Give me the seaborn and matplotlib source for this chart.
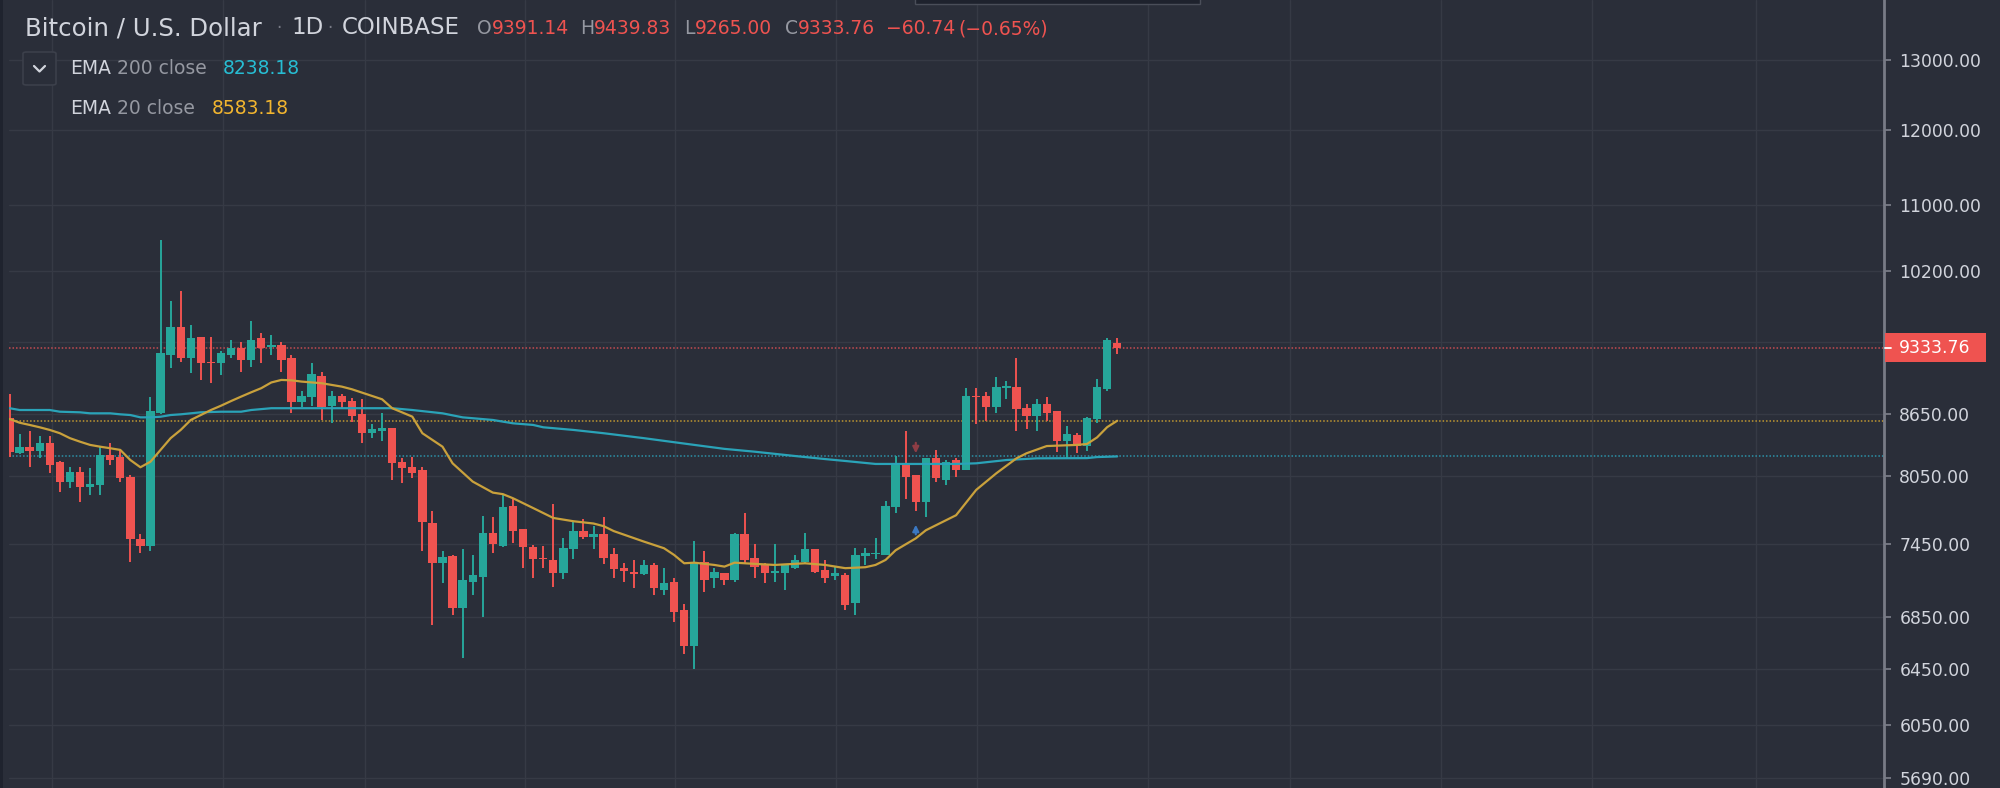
"""
Bitcoin / U.S. Dollar daily candles (Coinbase) with EMA 20 and EMA 200
"""

import matplotlib
matplotlib.use("Agg")
import matplotlib.pyplot as plt
import matplotlib.ticker as mticker
from matplotlib.lines import Line2D
from matplotlib.patches import FancyBboxPatch, Rectangle
import numpy as np
import pandas as pd
import seaborn as sns

# =========================================================
# Data (one candle per day)
# =========================================================

OPEN = [
    8614, 8274, 8331, 8290, 8363, 8188, 8003, 8090, 7957, 7972,
    8251, 8235, 8049, 7489, 7432, 8664, 9258, 9565, 9223, 9455,
    9187, 9170, 9258, 9330, 9205, 9437, 9340, 9365, 9223, 8774,
    8825, 9041, 8730, 8832, 8784, 8651, 8466, 8486, 8516, 8188,
    8142, 8111, 7634, 7290, 7347, 6917, 7132, 7174, 7547, 7432,
    7785, 7575, 7426, 7330, 7313, 7207, 7403, 7563, 7506, 7533,
    7361, 7244, 7216, 7195, 7271, 7065, 7132, 6905, 6625, 7299,
    7160, 7202, 7146, 7533, 7327, 7277, 7207, 7207, 7244, 7299,
    7403, 7230, 7181, 7188, 6958, 7347, 7362, 7355, 7770, 8173,
    8064, 7821, 8220, 8018, 8204, 8111, 8832, 8832, 8717, 8909,
    8919, 8713, 8631, 8748, 8681, 8385, 8444, 8337, 8598, 8904,
    9391.14,
]
HIGH = [
    8852, 8451, 8483, 8434, 8434, 8195, 8136, 8136, 8127, 8331,
    8363, 8300, 8064, 7535, 8819, 10568, 9852, 9966, 9582, 9455,
    9455, 9305, 9419, 9401, 9630, 9491, 9473, 9401, 9258, 8887,
    9170, 9082, 8887, 8853, 8808, 8801, 8549, 8657, 8516, 8220,
    8235, 8142, 7740, 7390, 7355, 7403, 7355, 7692, 7680, 7888,
    7851, 7575, 7440, 7432, 7800, 7503, 7642, 7663, 7607, 7680,
    7412, 7290, 7313, 7313, 7290, 7244, 7160, 6952, 7474, 7390,
    7244, 7202, 7547, 7716, 7446, 7285, 7446, 7271, 7355, 7547,
    7403, 7313, 7257, 7207, 7412, 7412, 7497, 7827, 8242, 8483,
    8064, 8220, 8300, 8204, 8220, 8915, 8915, 8869, 9023, 8989,
    9223, 8751, 8801, 8818, 8681, 8533, 8461, 8618, 9003, 9437,
    9439.83,
]
LOW = [
    8236, 8265, 8142, 8220, 8080, 7912, 7942, 7821, 7882, 7882,
    8158, 8003, 7299, 7375, 7392, 8648, 9118, 9187, 9065, 8996,
    8962, 9048, 9223, 9082, 9135, 9170, 9258, 9082, 8657, 8717,
    8730, 8591, 8564, 8707, 8568, 8369, 8417, 8389, 8018, 7988,
    8034, 7392, 6786, 7119, 6864, 6535, 7024, 6851, 7375, 7421,
    7460, 7249, 7160, 7249, 7092, 7152, 7319, 7489, 7403, 7277,
    7160, 7132, 7079, 7188, 7024, 7024, 6812, 6563, 6449, 7051,
    7079, 7105, 7132, 7277, 7160, 7119, 7132, 7065, 7236, 7277,
    7202, 7119, 7146, 6905, 6864, 7271, 7319, 7355, 7722, 7845,
    7740, 7680, 8003, 7972, 8049, 8111, 8549, 8584, 8664, 8801,
    8483, 8500, 8483, 8584, 8283, 8226, 8274, 8290, 8564, 8884,
    9265.00,
]
CLOSE = [
    8283, 8331, 8290, 8363, 8158, 8003, 8090, 7957, 7982, 8251,
    8204, 8034, 7489, 7432, 8681, 9277, 9565, 9223, 9437, 9170,
    9170, 9277, 9330, 9205, 9419, 9330, 9365, 9205, 8774, 8832,
    9058, 8717, 8832, 8774, 8631, 8466, 8500, 8516, 8173, 8127,
    8080, 7640, 7290, 7341, 6917, 7146, 7188, 7547, 7446, 7770,
    7563, 7421, 7319, 7319, 7207, 7412, 7563, 7506, 7535, 7333,
    7236, 7222, 7195, 7271, 7079, 7119, 6891, 6625, 7299, 7146,
    7216, 7146, 7533, 7313, 7257, 7202, 7222, 7271, 7313, 7403,
    7216, 7160, 7202, 6945, 7355, 7369, 7375, 7785, 8173, 8049,
    7821, 8220, 8034, 8188, 8111, 8832, 8818, 8717, 8919, 8932,
    8700, 8631, 8748, 8664, 8385, 8451, 8337, 8614, 8919, 9419,
    9333.76,
]

# EMA 200 (close), read at the days where the line bends
EMA200_DAYS = [
    0, 1, 4, 5, 7, 8, 10, 11, 12, 13, 14, 15, 16, 17, 19, 21, 23, 24,
    26, 28, 38, 40, 43, 45, 48, 50, 52, 53, 56, 59, 63, 68, 71, 74, 78,
    81, 83, 86, 94, 96, 99, 102, 107, 108, 110,
]
EMA200 = [
    8708, 8690, 8690, 8673, 8667, 8657, 8657, 8647, 8640, 8617, 8617,
    8623, 8640, 8647, 8667, 8673, 8673, 8690, 8708, 8708, 8708, 8690,
    8657, 8617, 8591, 8558, 8542, 8519, 8493, 8461, 8413, 8348, 8310,
    8283, 8242, 8213, 8195, 8167, 8167, 8173, 8204, 8220, 8222, 8232,
    8238.18,
]

# EMA 20 (close)
EMA20_DAYS = [
    0, 1, 2, 3, 4, 5, 6, 7, 8, 9, 10, 11, 12, 13, 14, 15, 16, 17, 18,
    19, 20, 21, 22, 23, 24, 25, 26, 27, 28, 29, 31, 33, 34, 37, 38, 40,
    41, 43, 44, 46, 48, 49, 50, 52, 54, 56, 58, 59, 60, 63, 65, 66, 67,
    68, 70, 71, 72, 74, 76, 79, 81, 83, 85, 86, 87, 88, 90, 91, 94, 96,
    98, 100, 101, 103, 106, 107, 108, 109, 110,
]
EMA20 = [
    8601, 8564, 8542, 8519, 8493, 8461, 8413, 8379, 8348, 8331, 8316,
    8300, 8204, 8136, 8188, 8300, 8413, 8493, 8591, 8640, 8690, 8733,
    8780, 8825, 8869, 8911, 8970, 8996, 8992, 8979, 8962, 8927, 8900,
    8798, 8708, 8624, 8461, 8331, 8173, 8003, 7902, 7888, 7851, 7763,
    7675, 7646, 7626, 7603, 7560, 7469, 7412, 7355, 7285, 7290, 7271,
    7257, 7290, 7280, 7271, 7285, 7271, 7244, 7252, 7271, 7313, 7395,
    7497, 7567, 7699, 7927, 8080, 8220, 8268, 8337, 8348, 8357, 8420,
    8520, 8583.18,
]

PRICE_TICKS = [13000, 12000, 11000, 10200, 8650, 8050, 7450, 6850, 6450, 6050, 5690]
HIDDEN_TICK = 9400          # grid line whose label sits under the price tag
GRID_DAYS = [4.2, 21.2, 35.3, 51.2, 66.1, 82.1, 96.1, 113.1, 127.2, 142.2, 157.2, 173.4]

SIGNAL_DAY = 90             # the two small arrows over / under this candle

TITLE = "Bitcoin / U.S. Dollar"
INTERVAL = "1D"
EXCHANGE = "COINBASE"
CHANGE = "−60.74"
CHANGE_PCT = "(−0.65%)"

# =========================================================
# Plot Settings
# =========================================================

W, H = 2000, 788
BG = "#2a2e39"
GRID = "#363a45"
AXIS = "#787b86"
TEXT = "#d1d4dc"
MUTED = "#9598a1"
UP = "#26a69a"
DOWN = "#ef5350"
EMA200_COLOR = "#2aa3b8"
EMA20_COLOR = "#c9a13c"
EMA200_TEXT = "#27bdd3"
EMA20_TEXT = "#f2b52f"

sns.set_theme(style="dark", rc={"axes.facecolor": BG, "figure.facecolor": BG})
plt.rcParams["font.family"] = ["DejaVu Sans"]


def fx(x):
    return x / W


def fy(y):
    return 1 - y / H


# =========================================================
# Figure
# =========================================================

df = pd.DataFrame({"open": OPEN, "high": HIGH, "low": LOW, "close": CLOSE})
df["day"] = np.arange(len(df))
df["up"] = df["close"] >= df["open"]
df["color"] = np.where(df["up"], UP, DOWN)
df["bottom"] = df[["open", "close"]].min(axis=1)
df["body"] = np.maximum((df["close"] - df["open"]).abs(), df["bottom"] * 0.0013)

fig = plt.figure(figsize=(W / 100, H / 100), dpi=100)
fig.patch.set_facecolor(BG)

left_px, right_px = 8.5, 1884
ax = fig.add_axes([fx(left_px), 0, fx(right_px - left_px), 1])
ax.set_facecolor(BG)

ax.set_yscale("log")
ax.set_ylim(5625, 13929)
ax.set_xlim(-0.1, 186.15)

# grid
for d in GRID_DAYS:
    ax.axvline(d, color=GRID, lw=1, zorder=0)
for p in PRICE_TICKS + [HIDDEN_TICK]:
    ax.axhline(p, color=GRID, lw=1, zorder=0)

# candles
ax.vlines(df["day"], df["low"], df["high"], colors=df["color"], lw=1.4, zorder=3)
ax.bar(df["day"], df["body"], bottom=df["bottom"], width=0.83,
       color=df["color"], linewidth=0, zorder=3)

# moving averages
sns.lineplot(x=EMA200_DAYS, y=EMA200, ax=ax, color=EMA200_COLOR, lw=1.6,
             estimator=None, sort=True, zorder=4)
sns.lineplot(x=EMA20_DAYS, y=EMA20, ax=ax, color=EMA20_COLOR, lw=1.6,
             estimator=None, sort=True, zorder=4)

# last value lines
dots = (0, (1, 1.3))
ax.axhline(CLOSE[-1], color="#c44b51", lw=1.1, ls=dots, zorder=2)
ax.axhline(EMA20[-1], color="#bf9731", lw=1.1, ls=dots, zorder=2)
ax.axhline(EMA200[-1], color="#2c92a8", lw=1.1, ls=dots, zorder=2)

# signal arrows
ax.annotate("", xy=(SIGNAL_DAY, df["high"][SIGNAL_DAY] * 1.022),
            xytext=(SIGNAL_DAY, df["high"][SIGNAL_DAY] * 1.041),
            arrowprops=dict(arrowstyle="-|>", color="#8e3d45", lw=1.6,
                            mutation_scale=9), zorder=5)
ax.annotate("", xy=(SIGNAL_DAY, df["low"][SIGNAL_DAY] * 0.987),
            xytext=(SIGNAL_DAY, df["low"][SIGNAL_DAY] * 0.970),
            arrowprops=dict(arrowstyle="-|>", color="#3b78c2", lw=1.6,
                            mutation_scale=9), zorder=5)

# price axis on the right
ax.yaxis.tick_right()
ax.yaxis.set_minor_locator(mticker.NullLocator())
ax.set_yticks(PRICE_TICKS)
ax.yaxis.set_major_formatter(mticker.FuncFormatter(lambda v, _: f"{v:.2f}"))
ax.tick_params(axis="y", which="major", length=5, width=1.3, color=AXIS,
               labelcolor=TEXT, labelsize=12.4, pad=6)
ax.set_xticks([])
for side in ["left", "top", "bottom"]:
    ax.spines[side].set_visible(False)
ax.spines["right"].set_color(AXIS)
ax.spines["right"].set_linewidth(2)

# last price tag
fig.canvas.draw()
y_last = ax.transData.transform((0, CLOSE[-1]))[1]
fig.add_artist(Rectangle((right_px + 0.5, y_last - 14.5), 101, 29,
                         transform=None, facecolor=DOWN, edgecolor="none",
                         zorder=6))
fig.add_artist(Line2D([right_px + 1, right_px + 7], [y_last, y_last],
                      transform=None, color="white", lw=1.3, zorder=7))
fig.text(fx(1899), y_last / H, f"{CLOSE[-1]:.2f}", color="white",
         fontsize=12.4, va="center", ha="left", zorder=7)

# =========================================================
# Header
# =========================================================

renderer = fig.canvas.get_renderer()


def put(x, y, s, color, size, gap=0):
    t = fig.text(fx(x), fy(y), s, color=color, fontsize=size,
                 va="center", ha="left", zorder=8)
    bb = t.get_window_extent(renderer)
    return bb.x1 + gap


head_y = 28
put(25, head_y, TITLE, TEXT, 17.6)
put(276, head_y, "·", AXIS, 12)
put(291, head_y, INTERVAL, TEXT, 16.5)
put(327, head_y, "·", AXIS, 12)
put(342, head_y, EXCHANGE, TEXT, 16.5)

ohlc = [("O", OPEN[-1], 477), ("H", HIGH[-1], 580), ("L", LOW[-1], 684), ("C", CLOSE[-1], 785)]
for letter, val, x0 in ohlc:
    x1 = put(x0, head_y + 1, letter, MUTED, 13.5)
    put(x1, head_y + 1, f"{val:.2f}", DOWN, 13.5)
put(886, head_y + 1, CHANGE, DOWN, 13.5)
put(958, head_y + 1, CHANGE_PCT, DOWN, 13.5)

# legend of the studies
fig.add_artist(FancyBboxPatch((fx(23), fy(85)), fx(33), 33 / H,
                              boxstyle="round,pad=0,rounding_size=0.002",
                              transform=fig.transFigure, facecolor=BG,
                              edgecolor="#3c404b", lw=1.2, zorder=8))
fig.add_artist(Line2D([fx(34), fx(39.5), fx(45)], [fy(66), fy(71.5), fy(66)],
                      transform=fig.transFigure, color=TEXT, lw=1.6, zorder=9))

x1 = put(70, 68, "EMA", TEXT, 13.5)
put(x1, 68, " 200 close", MUTED, 13.5)
put(223, 68, f"{EMA200[-1]:.2f}", EMA200_TEXT, 13.5)
x1 = put(70, 108, "EMA", TEXT, 13.5)
put(x1, 108, " 20 close", MUTED, 13.5)
put(212, 108, f"{EMA20[-1]:.2f}", EMA20_TEXT, 13.5)

# small dark strip on the left and the tooltip edge at the top
fig.add_artist(Rectangle((0, 0), fx(3), 1, transform=fig.transFigure,
                         facecolor="#1f232e", edgecolor="none", zorder=9))
fig.add_artist(Rectangle((fx(915), fy(4)), fx(285), 0.02, transform=fig.transFigure,
                         facecolor="#1e222d", edgecolor="#4a4e59", lw=1, zorder=9))

fig.savefig("out.png", dpi=100, facecolor=BG)
